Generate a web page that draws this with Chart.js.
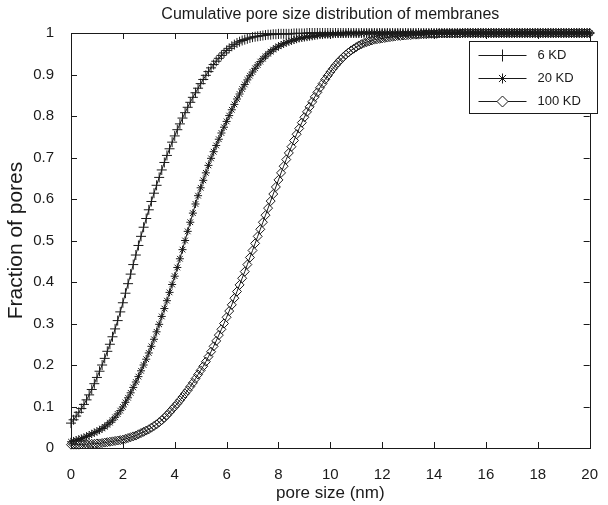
<!DOCTYPE html>
<html>
<head>
<meta charset="utf-8">
<script src="https://cdn.jsdelivr.net/npm/chart.js@4.4.1/dist/chart.umd.min.js"></script>
<style>
  html, body { margin: 0; padding: 0; background: #fff; }
</style>
</head>
<body>
<canvas id="poreChart" width="608" height="505"></canvas>
<script>
const titleText = "Cumulative pore size distribution of membranes";
const xTitle = "pore size (nm)";
const yTitle = "Fraction of pores";
const seriesNames = ["6 KD", "20 KD", "100 KD"];
const xTicks = [0, 2, 4, 6, 8, 10, 12, 14, 16, 18, 20];
const yTicks = [0, 0.1, 0.2, 0.3, 0.4, 0.5, 0.6, 0.7, 0.8, 0.9, 1];

// curves are sampled every 0.1 nm, from 0 to 20 nm
const xStep = 0.1;

const kd6 = [
  0.060, 0.068, 0.077, 0.086, 0.095, 0.105, 0.116, 0.128, 0.141, 0.155,
  0.170, 0.185, 0.200, 0.216, 0.233, 0.250, 0.268, 0.287, 0.307, 0.328,
  0.350, 0.373, 0.396, 0.419, 0.442, 0.465, 0.488, 0.510, 0.532, 0.553,
  0.574, 0.594, 0.614, 0.633, 0.652, 0.670, 0.688, 0.705, 0.721, 0.737,
  0.752, 0.767, 0.781, 0.795, 0.808, 0.821, 0.833, 0.845, 0.856, 0.867,
  0.878, 0.888, 0.898, 0.907, 0.916, 0.924, 0.932, 0.939, 0.946, 0.952,
  0.958, 0.963, 0.968, 0.972, 0.976, 0.979, 0.982, 0.984, 0.986, 0.988,
  0.990, 0.991, 0.992, 0.993, 0.994, 0.995, 0.996, 0.996, 0.997, 0.997,
  0.998, 0.998, 0.998, 0.998, 0.998, 0.998, 0.999, 0.999, 0.999, 0.999,
  0.999, 1, 1, 1, 1, 1, 1, 1, 1, 1,
  1, 1, 1, 1, 1, 1, 1, 1, 1, 1,
  1, 1, 1, 1, 1, 1, 1, 1, 1, 1,
  1, 1, 1, 1, 1, 1, 1, 1, 1, 1,
  1, 1, 1, 1, 1, 1, 1, 1, 1, 1,
  1, 1, 1, 1, 1, 1, 1, 1, 1, 1,
  1, 1, 1, 1, 1, 1, 1, 1, 1, 1,
  1, 1, 1, 1, 1, 1, 1, 1, 1, 1,
  1, 1, 1, 1, 1, 1, 1, 1, 1, 1,
  1, 1, 1, 1, 1, 1, 1, 1, 1, 1,
  1, 1, 1, 1, 1, 1, 1, 1, 1, 1,
  1
];

const kd20 = [
  0.015, 0.017, 0.019, 0.021, 0.023, 0.025, 0.028, 0.031, 0.034, 0.037,
  0.040, 0.043, 0.047, 0.051, 0.056, 0.061, 0.067, 0.074, 0.082, 0.090,
  0.099, 0.110, 0.121, 0.133, 0.146, 0.159, 0.172, 0.186, 0.200, 0.214,
  0.229, 0.245, 0.262, 0.280, 0.298, 0.317, 0.336, 0.355, 0.375, 0.394,
  0.414, 0.435, 0.456, 0.478, 0.500, 0.522, 0.544, 0.566, 0.588, 0.608,
  0.627, 0.645, 0.663, 0.681, 0.698, 0.714, 0.729, 0.744, 0.759, 0.773,
  0.787, 0.801, 0.815, 0.828, 0.841, 0.853, 0.865, 0.876, 0.887, 0.897,
  0.906, 0.915, 0.923, 0.931, 0.938, 0.944, 0.950, 0.955, 0.960, 0.964,
  0.968, 0.971, 0.974, 0.977, 0.979, 0.981, 0.983, 0.985, 0.987, 0.988,
  0.989, 0.990, 0.991, 0.992, 0.993, 0.994, 0.995, 0.995, 0.996, 0.996,
  0.997, 0.997, 0.998, 0.998, 0.998, 0.998, 0.999, 0.999, 0.999, 0.999,
  0.999, 0.999, 0.999, 1, 1, 1, 1, 1, 1, 1,
  1, 1, 1, 1, 1, 1, 1, 1, 1, 1,
  1, 1, 1, 1, 1, 1, 1, 1, 1, 1,
  1, 1, 1, 1, 1, 1, 1, 1, 1, 1,
  1, 1, 1, 1, 1, 1, 1, 1, 1, 1,
  1, 1, 1, 1, 1, 1, 1, 1, 1, 1,
  1, 1, 1, 1, 1, 1, 1, 1, 1, 1,
  1, 1, 1, 1, 1, 1, 1, 1, 1, 1,
  1, 1, 1, 1, 1, 1, 1, 1, 1, 1,
  1
];

const kd100 = [
  0.008, 0.008, 0.008, 0.008, 0.009, 0.009, 0.009, 0.010, 0.010, 0.010,
  0.011, 0.011, 0.012, 0.013, 0.014, 0.015, 0.016, 0.017, 0.018, 0.019,
  0.020, 0.022, 0.024, 0.026, 0.028, 0.030, 0.033, 0.036, 0.039, 0.042,
  0.045, 0.049, 0.053, 0.057, 0.062, 0.067, 0.073, 0.079, 0.086, 0.093,
  0.100, 0.107, 0.115, 0.123, 0.131, 0.139, 0.148, 0.157, 0.167, 0.177,
  0.187, 0.197, 0.208, 0.220, 0.232, 0.245, 0.258, 0.272, 0.286, 0.300,
  0.315, 0.330, 0.345, 0.361, 0.377, 0.393, 0.409, 0.425, 0.442, 0.459,
  0.476, 0.493, 0.510, 0.527, 0.544, 0.561, 0.578, 0.595, 0.612, 0.629,
  0.646, 0.663, 0.679, 0.695, 0.711, 0.726, 0.741, 0.756, 0.770, 0.784,
  0.797, 0.810, 0.822, 0.834, 0.846, 0.857, 0.868, 0.878, 0.888, 0.897,
  0.906, 0.914, 0.922, 0.929, 0.936, 0.942, 0.948, 0.953, 0.958, 0.962,
  0.966, 0.970, 0.973, 0.976, 0.978, 0.980, 0.982, 0.984, 0.985, 0.986,
  0.987, 0.988, 0.989, 0.990, 0.991, 0.992, 0.993, 0.993, 0.994, 0.994,
  0.995, 0.995, 0.996, 0.996, 0.996, 0.997, 0.997, 0.997, 0.998, 0.998,
  0.998, 0.998, 0.999, 0.999, 0.999, 0.999, 0.999, 0.999, 0.999, 0.999,
  0.999, 1, 1, 1, 1, 1, 1, 1, 1, 1,
  1, 1, 1, 1, 1, 1, 1, 1, 1, 1,
  1, 1, 1, 1, 1, 1, 1, 1, 1, 1,
  1, 1, 1, 1, 1, 1, 1, 1, 1, 1,
  1, 1, 1, 1, 1, 1, 1, 1, 1, 1,
  1
];

const ink = "#1a1a1a";
const fontFamily = "'Liberation Sans', Arial, Helvetica, sans-serif";

const toPoints = arr => arr.map((v, i) => ({ x: +(i * xStep).toFixed(1), y: v }));

const mkSet = (label, values, style, radius) => ({
  label,
  data: toPoints(values),
  borderColor: ink,
  borderWidth: 1,
  pointStyle: style,
  pointRadius: radius,
  pointHoverRadius: radius,
  pointBorderColor: ink,
  pointBackgroundColor: "rgba(0,0,0,0)",
  pointBorderWidth: 1,
  tension: 0,
  fill: false,
  clip: false
});

// MATLAB-like box: frame, inward ticks, legend in the upper right
const matlabBox = {
  id: "matlabBox",
  afterDatasetsDraw(chart) {
    const { ctx, chartArea: a, scales } = chart;
    const tick = 6;
    ctx.save();
    ctx.strokeStyle = ink;
    ctx.lineWidth = 1;
    ctx.beginPath();
    xTicks.forEach(v => {
      const px = Math.round(scales.x.getPixelForValue(v)) + 0.5;
      ctx.moveTo(px, a.bottom); ctx.lineTo(px, a.bottom - tick);
      ctx.moveTo(px, a.top); ctx.lineTo(px, a.top + tick);
    });
    yTicks.forEach(v => {
      const py = Math.round(scales.y.getPixelForValue(v)) + 0.5;
      ctx.moveTo(a.left, py); ctx.lineTo(a.left + tick, py);
      ctx.moveTo(a.right, py); ctx.lineTo(a.right - tick, py);
    });
    ctx.stroke();
    ctx.strokeRect(Math.round(a.left) + 0.5, Math.round(a.top) + 0.5,
      Math.round(a.right - a.left), Math.round(a.bottom - a.top));

    // legend
    const lx = 469.5, ly = 41.5, lw = 128, lh = 72;
    ctx.fillStyle = "#fff";
    ctx.fillRect(lx, ly, lw, lh);
    ctx.strokeRect(lx, ly, lw, lh);
    ctx.font = "13px " + fontFamily;
    ctx.textBaseline = "middle";
    chart.data.datasets.forEach((ds, i) => {
      const y = ly + 14 + i * 23;
      ctx.strokeStyle = ink;
      ctx.beginPath();
      ctx.moveTo(lx + 9, y); ctx.lineTo(lx + 57, y);
      ctx.stroke();
      ctx.fillStyle = "#fff";
      Chart.helpers.drawPoint(ctx, {
        pointStyle: ds.pointStyle, radius: ds.pointRadius + 1, borderWidth: 1, rotation: 0
      }, lx + 33, y);
      ctx.fillStyle = ink;
      ctx.fillText(ds.label, lx + 68, y);
    });
    ctx.restore();
  }
};

new Chart(document.getElementById("poreChart"), {
  type: "line",
  data: {
    datasets: [
      mkSet(seriesNames[0], kd6, "cross", 5),
      mkSet(seriesNames[1], kd20, "star", 4),
      mkSet(seriesNames[2], kd100, "rectRot", 4.5)
    ]
  },
  options: {
    responsive: false,
    animation: false,
    devicePixelRatio: 1,
    layout: { padding: { left: 0, right: 10, top: 0, bottom: 0 } },
    plugins: {
      legend: { display: false },
      tooltip: { enabled: false },
      title: {
        display: true,
        text: titleText,
        fullSize: false,
        color: ink,
        font: { family: fontFamily, size: 16, weight: "normal", lineHeight: 1.2 },
        padding: { top: 5, bottom: 8.8 }
      }
    },
    scales: {
      x: {
        type: "linear",
        min: 0, max: 20,
        afterBuildTicks: s => { s.ticks = xTicks.map(v => ({ value: v })); },
        afterFit: s => { s.height = 57; },
        grid: { display: false },
        border: { display: false },
        ticks: { color: ink, padding: 10, font: { family: fontFamily, size: 15 }, maxRotation: 0 },
        title: {
          display: true, text: xTitle, color: ink,
          font: { family: fontFamily, size: 17 },
          padding: { top: 0, bottom: 1 }
        }
      },
      y: {
        type: "linear",
        min: 0, max: 1,
        afterBuildTicks: s => { s.ticks = yTicks.map(v => ({ value: v })); },
        afterFit: s => { s.width = 71; },
        grid: { display: false },
        border: { display: false },
        ticks: {
          color: ink, padding: 9, font: { family: fontFamily, size: 15 },
          callback: v => String(+v.toFixed(1))
        },
        title: {
          display: true, text: yTitle, color: ink,
          font: { family: fontFamily, size: 21 },
          padding: { top: 4, bottom: 0 }
        }
      }
    }
  },
  plugins: [matlabBox]
});
</script>
</body>
</html>
